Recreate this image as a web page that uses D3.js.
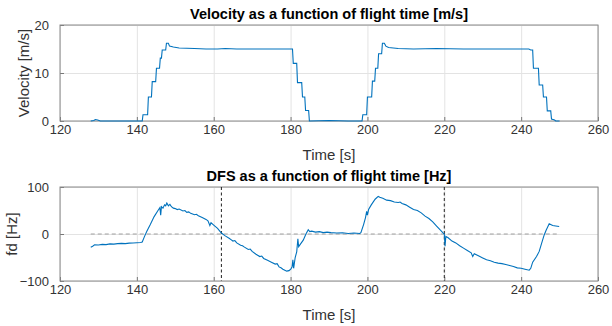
<!DOCTYPE html>
<html>
<head>
<meta charset="utf-8">
<script src="https://cdn.jsdelivr.net/npm/d3@7"></script>
<style>
  body { margin: 0; background: #fff; }
  svg { font-family: "Liberation Sans", Arial, sans-serif; }
  .tick text { fill: #333; font-size: 13px; }
  .grid line { stroke: #e3e3e3; }
  .grid path, .axis path { display: none; }
  .axis line { stroke: #777; }
</style>
</head>
<body>
<div id="chart"></div>
<script>
// time ticks shared by both panels
const timeTicks = [120, 140, 160, 180, 200, 220, 240, 260];
const velTicks = [0, 10, 20];
const dfsTicks = [-100, 0, 100];

// velocity [m/s] vs time [s]
const velocity = [
  [128, 0], [128.8, 0.1], [129.2, 0.3], [129.8, 0.2], [130.5, 0], [141.4, 0],
  [141.6, 1.3], [142.8, 1.3], [143.0, 5], [143.8, 5], [144.0, 8.2], [144.9, 8.2],
  [145.1, 11], [145.9, 11], [146.1, 13.1], [146.4, 13.1], [146.6, 14.8], [147.5, 14.8],
  [147.7, 16.2], [148.2, 16.2], [148.5, 15.6], [149.5, 15.4], [151, 15.2], [155, 15.1],
  [158, 15], [161, 15], [163, 15.1], [166, 15], [170, 15], [175, 15], [178, 15],
  [180.5, 15], [180.7, 12], [181.6, 12], [181.8, 8], [182.9, 8], [183.1, 5], [183.7, 5],
  [183.9, 2.2], [184.7, 2.2], [184.9, 0], [190, 0.1], [195, 0], [198.6, 0],
  [198.8, 1.3], [199.8, 1.3], [200.0, 5], [201.1, 5], [201.3, 8.3], [201.9, 8.3],
  [202.1, 11], [202.7, 11], [202.9, 14], [203.7, 14], [203.9, 16.2], [204.4, 16.2],
  [204.8, 15.6], [205.5, 15.3], [208, 15.1], [212, 15], [218, 15.1], [225, 15],
  [232, 15], [238, 15], [242, 15], [242.5, 14.8], [243.0, 14.8], [243.2, 11],
  [244.5, 11], [244.7, 7.5], [245.6, 7.5], [245.8, 5], [246.6, 5], [246.8, 2.1],
  [247.7, 2.1], [247.9, 0.4], [248.7, 0.2], [249, 0], [250, 0]
];

// doppler frequency shift fd [Hz] vs time [s]
const dfs = [
  [128, -28], [128.5, -26], [129, -23], [130, -23.5], [131, -22], [132, -22.5], [133, -21],
  [134, -21.5], [135, -20.5], [136, -20], [137, -20.5], [138, -19.5], [139, -19], [140, -18.5],
  [141, -18], [141.4, -17], [142, -5], [142.6, 6], [143.5, 20], [144.5, 37], [145.5, 50],
  [146, 56], [146.2, 40], [146.4, 58], [146.8, 55], [147.2, 62], [147.5, 60], [147.8, 66],
  [148.2, 60], [148.6, 63], [149, 58], [149.5, 55], [150, 54], [150.5, 52], [151, 53],
  [152, 49], [152.5, 50], [153, 46], [153.5, 47], [154, 44], [155, 41], [155.5, 42], [156, 39],
  [157, 35], [158, 31], [158.5, 28], [159, 18], [159.3, 24], [160, 19], [161, 12], [162, 2],
  [163, -4], [164, -9], [164.5, -12], [165, -15], [165.5, -14], [166, -19], [167, -24],
  [167.5, -25], [168, -28], [169, -33], [169.5, -32], [170, -37], [171, -43], [172, -48],
  [172.5, -47], [173, -52], [174, -56], [175, -60], [176, -64], [176.5, -63], [177, -70],
  [177.5, -72], [178, -75], [178.5, -77], [179, -79], [179.6, -78], [180.1, -74],
  [180.4, -70], [180.6, -55], [180.8, -73], [181.2, -50], [181.6, -38], [181.9, -10],
  [182.1, -27], [182.7, -20], [183.3, -13], [184, 0], [184.6, 9], [185, 5], [185.5, 6],
  [186.5, 4], [187.5, 5], [188.5, 3], [189.5, 4], [190.5, 3], [192, 2], [193.5, 2.5],
  [195, 1], [196.5, 2], [198, 1], [198.3, 3], [199, 20], [199.5, 35], [199.8, 48], [200, 40],
  [200.3, 52], [201, 62], [202, 74], [202.8, 80], [203.2, 78], [204, 76], [205, 72],
  [206, 71], [207, 68], [208, 67], [208.5, 68], [209, 65], [210, 62], [211, 57], [212, 52],
  [213, 50], [214, 45], [215, 38], [216, 33], [217, 26], [218, 17], [219, 8], [219.6, 3],
  [220, 0], [220.2, -26], [220.4, -5], [221, -8], [222, -15], [223, -19], [224, -25],
  [225, -30], [226, -35], [227, -40], [227.4, -48], [227.8, -42], [229, -47], [230, -51],
  [231, -55], [232, -57], [233, -60], [234, -62], [235, -63], [236, -65], [237, -67],
  [238, -69], [239, -72], [240, -73], [241, -75], [242.1, -77], [242.5, -73], [243, -60],
  [244, -48], [244.7, -37], [245.5, -15], [246, -2], [246.5, 8], [247.3, 22], [248.2, 18],
  [249, 17], [249.9, 16]
];

// reference markers
const zeroLine = [[128, 0], [250, 0]];
const markerTimes = [162, 220];

const W = 612, H = 326;
const left = 60, right = 598;

const svg = d3.select('#chart').append('svg')
  .attr('width', W)
  .attr('height', H);

const x = d3.scaleLinear().domain([120, 260]).range([left, right]);

function panel(top, bottom, yDomain, yTicks, title, yLabel, yLabelX) {
  const y = d3.scaleLinear().domain(yDomain).range([bottom, top]);
  const g = svg.append('g');
  const h = bottom - top;
  const w = right - left;

  // grid
  g.append('g').attr('class', 'grid')
    .attr('transform', `translate(0, ${bottom})`)
    .call(d3.axisBottom(x).tickValues(timeTicks).tickSize(-h).tickFormat(''));
  g.append('g').attr('class', 'grid')
    .attr('transform', `translate(${left}, 0)`)
    .call(d3.axisLeft(y).tickValues(yTicks).tickSize(-w).tickFormat(''));

  // axes with inward ticks
  g.append('g').attr('class', 'axis')
    .attr('transform', `translate(0, ${bottom})`)
    .call(d3.axisBottom(x).tickValues(timeTicks).tickSizeInner(-4).tickSizeOuter(0).tickPadding(4));
  g.append('g').attr('class', 'axis')
    .attr('transform', `translate(${left}, 0)`)
    .call(d3.axisLeft(y).tickValues(yTicks).tickSizeInner(-4).tickSizeOuter(0).tickPadding(11));

  // box
  g.append('rect')
    .attr('x', left).attr('y', top)
    .attr('width', w).attr('height', h)
    .attr('fill', 'none').attr('stroke', '#8a8a8a').attr('stroke-width', 1);

  g.append('text')
    .attr('x', (left + right) / 2).attr('y', top - 6)
    .attr('text-anchor', 'middle')
    .attr('font-size', 14.5).attr('font-weight', 'bold').attr('fill', '#000')
    .text(title);

  g.append('text')
    .attr('x', (left + right) / 2).attr('y', bottom + 39)
    .attr('text-anchor', 'middle')
    .attr('font-size', 15).attr('fill', '#333')
    .text('Time [s]');

  g.append('text')
    .attr('transform', `translate(${yLabelX}, ${(top + bottom) / 2}) rotate(-90)`)
    .attr('text-anchor', 'middle')
    .attr('font-size', 15).attr('fill', '#333')
    .text(yLabel);

  return { g, y };
}

// top: velocity
const p1 = panel(25, 121, [0, 20], velTicks,
  'Velocity as a function of flight time [m/s]', 'Velocity [m/s]', 29);

const velLine = d3.line()
  .x((d) => x(d[0]))
  .y((d) => p1.y(d[1]));

p1.g.append('path')
  .datum(velocity)
  .attr('fill', 'none')
  .attr('stroke', '#0072BD')
  .attr('stroke-width', 1.1)
  .attr('d', velLine);

// bottom: DFS
const p2 = panel(187, 281, [-100, 100], dfsTicks,
  'DFS as a function of flight time [Hz]', 'fd [Hz]', 17);

const dfsLine = d3.line()
  .x((d) => x(d[0]))
  .y((d) => p2.y(d[1]));

p2.g.append('path')
  .datum(zeroLine)
  .attr('fill', 'none')
  .attr('stroke', '#a0a0a0')
  .attr('stroke-dasharray', '4,3')
  .attr('d', dfsLine);

p2.g.selectAll('.marker')
  .data(markerTimes)
  .enter().append('line')
  .attr('class', 'marker')
  .attr('x1', (d) => x(d)).attr('x2', (d) => x(d))
  .attr('y1', p2.y(100)).attr('y2', p2.y(-100))
  .attr('stroke', '#222')
  .attr('stroke-dasharray', '3,2.5');

p2.g.append('path')
  .datum(dfs)
  .attr('fill', 'none')
  .attr('stroke', '#0072BD')
  .attr('stroke-width', 1.1)
  .attr('d', dfsLine);
</script>
</body>
</html>
